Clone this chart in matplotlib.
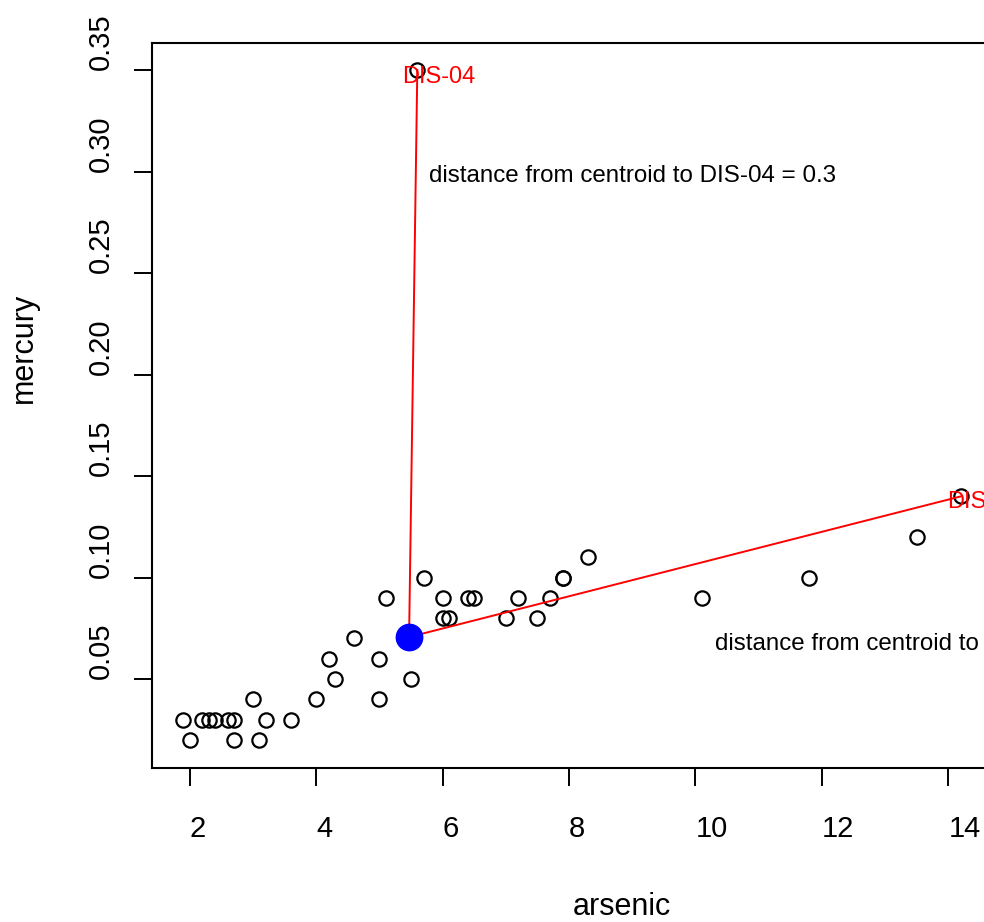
import matplotlib
matplotlib.use("Agg")
import matplotlib.pyplot as plt

plt.rcParams['font.family'] = ['Liberation Sans', 'DejaVu Sans']

# arsenic / mercury samples
arsenic = [2.0, 2.7, 3.1,
           1.9, 2.2, 2.3, 2.4, 2.6, 2.7, 3.2, 3.6,
           3.0, 4.0, 5.0,
           4.3, 5.5,
           4.2, 5.0,
           4.6,
           6.0, 6.1, 7.0, 7.5,
           5.1, 6.0, 6.4, 6.5, 7.2, 7.7, 10.1,
           5.7, 7.9, 7.9, 11.8,
           8.3,
           13.5,
           14.2,
           5.6]
mercury = [0.02, 0.02, 0.02,
           0.03, 0.03, 0.03, 0.03, 0.03, 0.03, 0.03, 0.03,
           0.04, 0.04, 0.04,
           0.05, 0.05,
           0.06, 0.06,
           0.07,
           0.08, 0.08, 0.08, 0.08,
           0.09, 0.09, 0.09, 0.09, 0.09, 0.09, 0.09,
           0.10, 0.10, 0.10, 0.10,
           0.11,
           0.12,
           0.14,
           0.35]

centroid = (5.47, 0.0707)
outliers = {'DIS-04': (5.6, 0.35), 'DIS-15': (14.2, 0.14)}
distances = {'DIS-04': 0.3, 'DIS-15': 8.8}

x_ticks = [2, 4, 6, 8, 10, 12, 14]
y_ticks = [0.05, 0.10, 0.15, 0.20, 0.25, 0.30, 0.35]

fig = plt.figure(figsize=(9.84, 9.22), dpi=100)
ax = fig.add_axes([152 / 984, 154 / 922, 842 / 984, 725 / 922])

ax.plot(arsenic, mercury, 'o', mfc='none', mec='black', ms=10.3, mew=1.6)

# lines from centroid to the outliers
for name, (ox, oy) in outliers.items():
    ax.plot([centroid[0], ox], [centroid[1], oy], color='red', lw=1.4)

ax.plot(centroid[0], centroid[1], 'o', color='blue', ms=19)

# this device draws every text left-aligned at its anchor
ax.text(5.36, 0.3436, 'DIS-04', color='red', fontsize=17, va='baseline', ha='left')
ax.text(13.98, 0.1341, 'DIS-15', color='red', fontsize=17, va='baseline', ha='left')
ax.text(5.79, 0.295, 'distance from centroid to DIS-04 = {}'.format(distances['DIS-04']),
        fontsize=17.4, va='baseline', ha='left')
ax.text(10.31, 0.0643, 'distance from centroid to DIS-15 = {}'.format(distances['DIS-15']),
        fontsize=17.4, va='baseline', ha='left')

ax.set_xticks(x_ticks)
ax.set_xticklabels([str(t) for t in x_ticks])
ax.set_yticks(y_ticks)
ax.set_yticklabels(['{:.2f}'.format(t) for t in y_ticks])
ax.set_xlim(1.403, 14.723)
ax.set_ylim(0.0062, 0.3633)

for s in ax.spines.values():
    s.set_linewidth(1.5)

ax.tick_params(axis='both', direction='out', length=13, width=1.4, labelsize=21)
ax.tick_params(axis='x', pad=36.5)
ax.tick_params(axis='y', pad=18)
for lab in ax.get_xticklabels():
    lab.set_ha('left')
    lab.set_va('baseline')
for lab in ax.get_yticklabels():
    lab.set_rotation(90)
    lab.set_rotation_mode('anchor')
    lab.set_ha('left')
    lab.set_va('baseline')

ax.set_xlabel('arsenic', fontsize=22, ha='left', va='baseline')
ax.xaxis.set_label_coords((573 - 152) / 842, (768 - 915) / 725)
ax.set_ylabel('mercury', fontsize=22, ha='left', va='baseline',
              rotation=90, rotation_mode='anchor')
ax.yaxis.set_label_coords((32 - 152) / 842, (768 - 403) / 725)

plt.savefig('out.png', dpi=100)
